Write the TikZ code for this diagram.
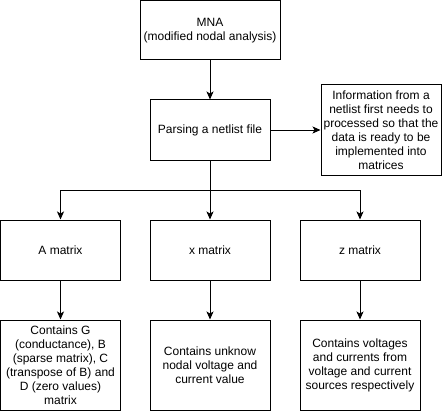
\documentclass[tikz,border=0pt]{standalone}
\usepackage{fontspec}
\setmainfont{Liberation Sans}
\usetikzlibrary{arrows.meta}
\begin{document}
\begin{tikzpicture}[x=1pt,y=-1pt,
  every node/.style={font=\fontsize{12}{14}\selectfont,align=center},
  blk/.style={draw,line width=1pt,minimum width=120pt,minimum height=60pt,inner sep=0pt},
  tall/.style={blk,minimum height=90pt},
  arr/.style={line width=1pt,-{Stealth[length=8pt,width=7pt,inset=2pt]}}]
\useasboundingbox (0,0) rectangle (442,412);
% top of the flow
\node[blk,minimum width=140pt,minimum height=59pt] (mna) at (210,30.5) {MNA\\(modified nodal analysis)};
\node[blk] (parse) at (210,130) {Parsing a netlist file};
\node[tall] (info) at (381,130) {Information from a\\netlist first needs to\\processed so that the\\data is ready to be\\implemented into\\matrices};
% matrices
\node[blk] (amat) at (60.5,250) {A matrix};
\node[blk] (xmat) at (210,250) {x matrix};
\node[blk] (zmat) at (360,250) {z matrix};
\node[tall] (adesc) at (60.5,365) {Contains G\\(conductance), B\\(sparse matrix), C\\(transpose of B) and\\D (zero values)\\matrix};
\node[tall] (xdesc) at (210,365) {Contains unknow\\nodal voltage and\\current value};
\node[tall] (zdesc) at (360,365) {Contains voltages\\and currents from\\voltage and current\\sources respectively};
% connectors
\coordinate (split) at (210,190);
\draw[arr] (mna) -- (parse);
\draw[arr] (parse) -- (info);
\draw[line width=1pt] (parse) -- (split);
\draw[arr] (split) -| (amat);
\draw[arr] (split) -- (xmat);
\draw[arr] (split) -| (zmat);
\draw[arr] (amat) -- (adesc);
\draw[arr] (xmat) -- (xdesc);
\draw[arr] (zmat) -- (zdesc);
\end{tikzpicture}
\end{document}
